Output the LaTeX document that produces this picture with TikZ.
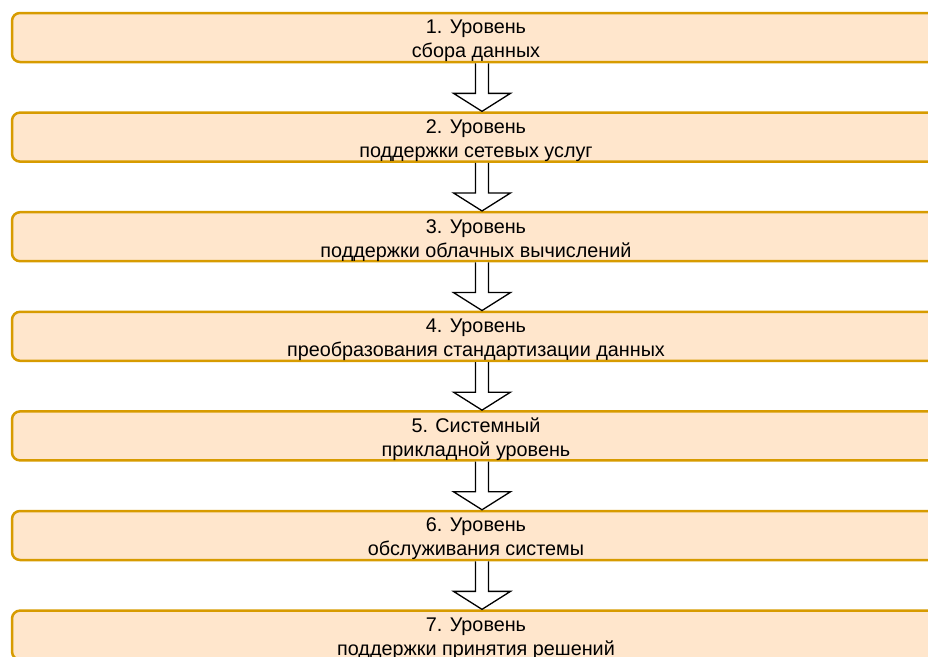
\documentclass[tikz,border=0pt]{standalone}
\usepackage{fontspec}
\setmainfont{Liberation Sans}
\usetikzlibrary{calc}
\definecolor{layerfill}{HTML}{FFE6CC}
\definecolor{layerdraw}{HTML}{D79B00}
\tikzset{
  layer/.style={draw=layerdraw, fill=layerfill, line width=2.5pt, rounded corners=8pt,
    minimum width=928pt, minimum height=49pt, inner sep=0pt},
  layertext/.style={inner sep=0pt, align=center, font=\fontsize{19.8}{24}\selectfont},
  blockarrow/.style={draw=black, fill=white, line width=1.3pt, line join=miter}
}
% box with its two-line caption set slightly below the centre
\newcommand{\layerbox}[3]{%
  \node[layer] (#1) at (476,#2) {};
  \node[layertext] (#1t) at ($(#1.center)+(0,3.5)$) {#3};
}
\newcommand{\downarrowblock}[2]{%
  \draw[blockarrow] let \p1=($(#1.south)+(6,0)$), \p2=($(#2.north)+(6,0)$) in
    (\x1-6.5,\y1) -- (\x1-6.5,\y2+18) -- (\x1-28.5,\y2+18) -- (\x1,\y2)
    -- (\x1+28.5,\y2+18) -- (\x1+6.5,\y2+18) -- (\x1+6.5,\y1);
}
\begin{document}
\begin{tikzpicture}[x=1pt,y=-1pt]
\useasboundingbox (0,0) rectangle (928,656);
\clip (0,0) rectangle (928,656);
\layerbox{l1}{37.5}{1. Уровень\\сбора данных}
\layerbox{l2}{137.1}{2. Уровень\\поддержки сетевых услуг}
\layerbox{l3}{236.7}{3. Уровень\\поддержки облачных вычислений}
\layerbox{l4}{336.3}{4. Уровень\\преобразования стандартизации данных}
\layerbox{l5}{435.9}{5. Системный\\прикладной уровень}
\layerbox{l6}{535.5}{6. Уровень\\обслуживания системы}
\layerbox{l7}{635.1}{7. Уровень\\поддержки принятия решений}
\foreach \a/\b in {l1/l2,l2/l3,l3/l4,l4/l5,l5/l6,l6/l7}{\downarrowblock{\a}{\b}}
\end{tikzpicture}
\end{document}
